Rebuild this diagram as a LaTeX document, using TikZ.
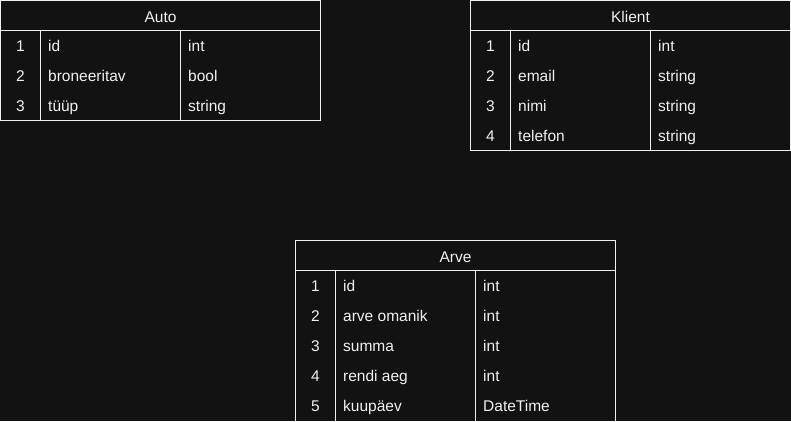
\documentclass[tikz,border=0pt]{standalone}
\usepackage{fontspec}
\setmainfont{Liberation Sans}
\definecolor{bgdark}{HTML}{121212}
\definecolor{inkwhite}{HTML}{F0F0F0}
\tikzset{
  tabline/.style={draw=inkwhite, line width=1pt},
  cell/.style={inner sep=0pt, text=inkwhite, font=\fontsize{15.5}{18}\selectfont},
  numcell/.style={cell, anchor=base},
  txtcell/.style={cell, anchor=base west}
}
\begin{document}
\begin{tikzpicture}[x=1pt,y=-1pt]
\useasboundingbox[fill=bgdark] (0,0) rectangle (791,421);

% Auto
\draw[tabline] (0.5,0.5) rectangle (320.5,120.5);
\draw[tabline] (0.5,30.5) -- (320.5,30.5);
\draw[tabline] (40.5,30.5) -- (40.5,120.5);
\draw[tabline] (180.5,30.5) -- (180.5,120.5);
\node[numcell] (auto) at (160.5,22) {Auto};
\foreach \n/\f/\t [count=\i] in {1/id/int, 2/broneeritav/bool, 3/tüüp/string}{
  \node[numcell] (auto-n\i) at (20.5,21.5+30*\i) {\n};
  \node[txtcell] (auto-f\i) at (48,21.5+30*\i) {\f};
  \node[txtcell] (auto-t\i) at (188,21.5+30*\i) {\t};
}

% Klient
\draw[tabline] (470.5,0.5) rectangle (790.5,150.5);
\draw[tabline] (470.5,30.5) -- (790.5,30.5);
\draw[tabline] (510.5,30.5) -- (510.5,150.5);
\draw[tabline] (650.5,30.5) -- (650.5,150.5);
\node[numcell] (klient) at (630.5,22) {Klient};
\foreach \n/\f/\t [count=\i] in {1/id/int, 2/email/string, 3/nimi/string, 4/telefon/string}{
  \node[numcell] (klient-n\i) at (490.5,21.5+30*\i) {\n};
  \node[txtcell] (klient-f\i) at (518,21.5+30*\i) {\f};
  \node[txtcell] (klient-t\i) at (658,21.5+30*\i) {\t};
}

% Arve
\draw[tabline] (295.5,421.5) -- (295.5,240.5) -- (615.5,240.5) -- (615.5,421.5);
\draw[tabline] (295.5,270.5) -- (615.5,270.5);
\draw[tabline] (335.5,270.5) -- (335.5,421.5);
\draw[tabline] (475.5,270.5) -- (475.5,421.5);
\node[numcell] (arve) at (455.5,262) {Arve};
\foreach \n/\f/\t [count=\i] in {1/id/int, 2/arve omanik/int, 3/summa/int, 4/rendi aeg/int, 5/kuupäev/DateTime}{
  \node[numcell] (arve-n\i) at (315.5,261.5+30*\i) {\n};
  \node[txtcell] (arve-f\i) at (343,261.5+30*\i) {\f};
  \node[txtcell] (arve-t\i) at (483,261.5+30*\i) {\t};
}
\end{tikzpicture}
\end{document}
